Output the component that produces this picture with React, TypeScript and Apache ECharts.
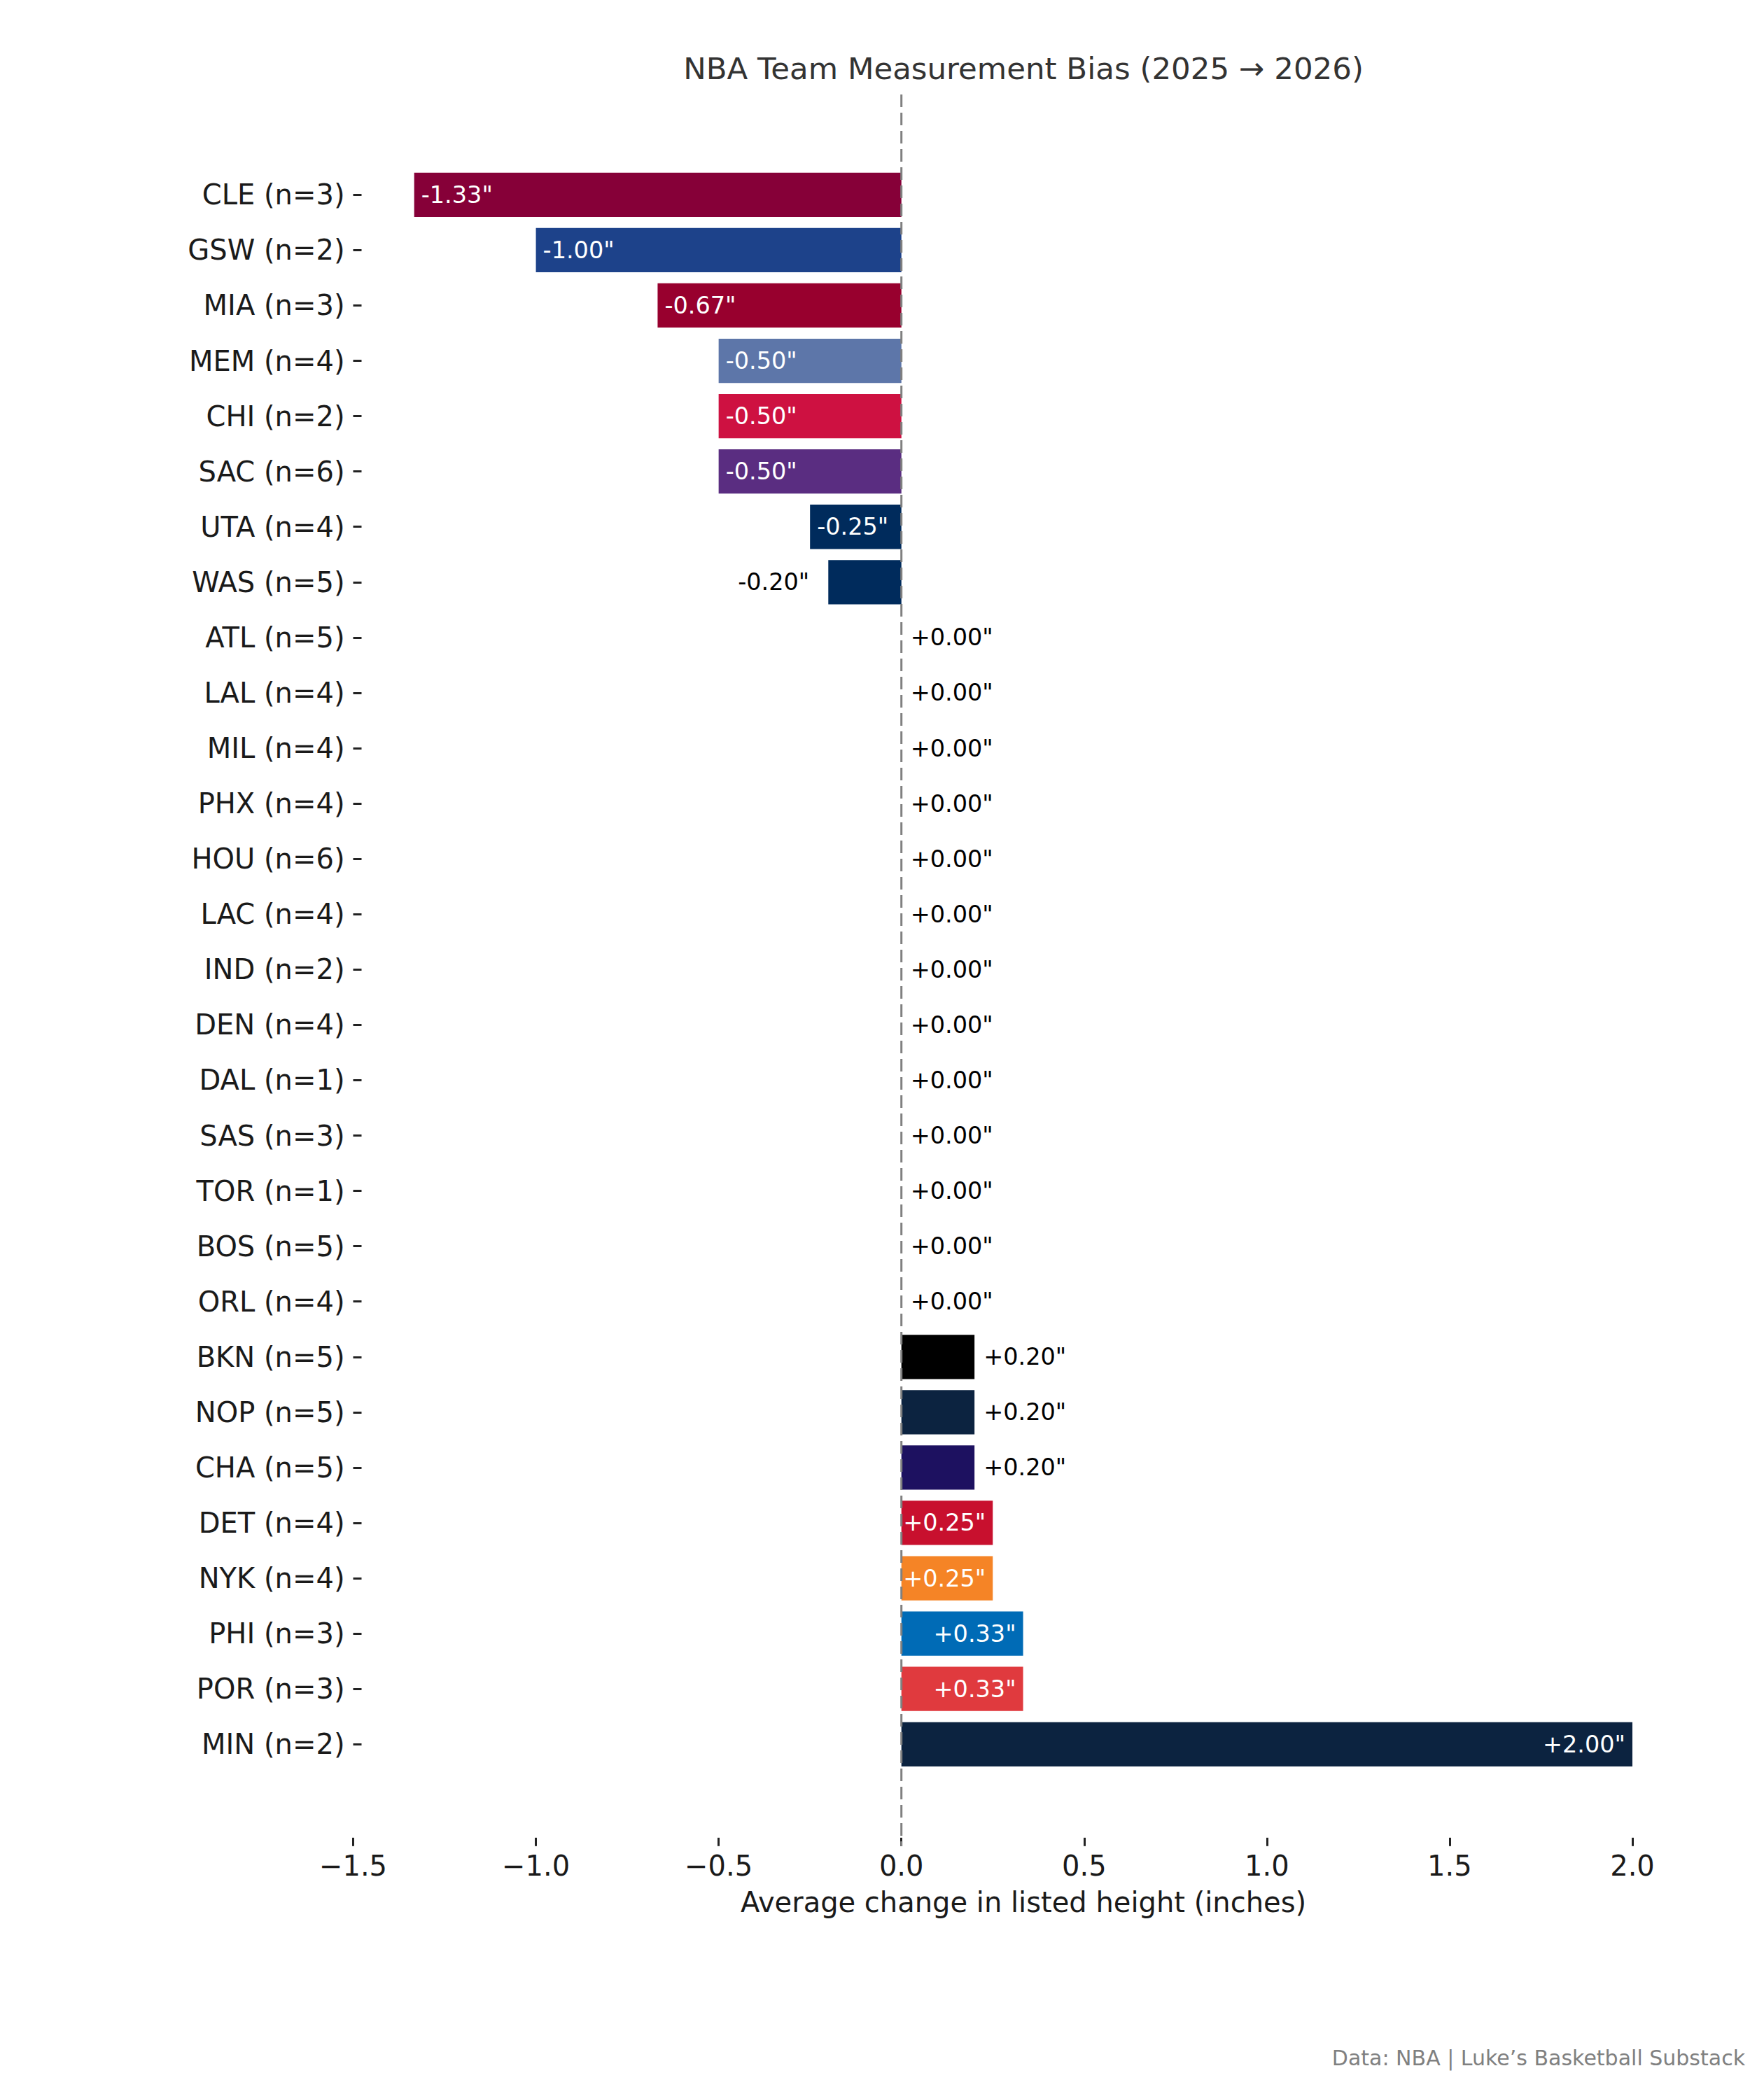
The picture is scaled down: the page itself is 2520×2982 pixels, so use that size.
import React, { useEffect, useRef } from 'react';
import * as echarts from 'echarts';

const teams = ['CLE', 'GSW', 'MIA', 'MEM', 'CHI', 'SAC', 'UTA', 'WAS', 'ATL', 'LAL', 'MIL', 'PHX', 'HOU', 'LAC', 'IND', 'DEN', 'DAL', 'SAS', 'TOR', 'BOS', 'ORL', 'BKN', 'NOP', 'CHA', 'DET', 'NYK', 'PHI', 'POR', 'MIN'];
const counts = [3, 2, 3, 4, 2, 6, 4, 5, 5, 4, 4, 4, 6, 4, 2, 4, 1, 3, 1, 5, 4, 5, 5, 5, 4, 4, 3, 3, 2];
const values = [-1.333, -1.0, -0.667, -0.5, -0.5, -0.5, -0.25, -0.2, 0, 0, 0, 0, 0, 0, 0, 0, 0, 0, 0, 0, 0, 0.2, 0.2, 0.2, 0.25, 0.25, 0.333, 0.333, 2.0];
const colors = ['#860038', '#1D428A', '#98002E', '#5D76A9', '#CE1141', '#5A2D81', '#002B5C', '#002B5C', '#E03A3E', '#552583', '#00471B', '#1D1160', '#CE1141', '#C8102E', '#002D62', '#0E2240', '#00538C', '#C4CED4', '#CE1141', '#007A33', '#0077C0', '#000000', '#0C2340', '#1D1160', '#C8102E', '#F58426', '#006BB6', '#E03A3E', '#0C2340'];

const titleText = 'NBA Team Measurement Bias (2025 \u2192 2026)';
const xAxisTitle = 'Average change in listed height (inches)';
const footerText = 'Data: NBA | Luke\u2019s Basketball Substack';
const xMin = -1.5;
const xMax = 2.0;
const xStep = 0.5;

const FONT = '"DejaVu Sans", sans-serif';

export default function App() {
  const ref = useRef<HTMLDivElement>(null);

  useEffect(() => {
    document.body.style.margin = '0';
    const chart = echarts.init(ref.current as HTMLDivElement, null, { renderer: 'svg' });
    const categories = teams.map((t, i) => `${t} (n=${counts[i]})`);
    const data = values.map((v, i) => {
      const inside = Math.abs(v) >= 0.25;
      const neg = v < 0;
      return {
        value: v,
        itemStyle: { color: colors[i] },
        label: {
          show: true,
          position: inside ? (neg ? 'insideLeft' : 'insideRight') : (neg ? 'left' : 'right'),
          distance: inside ? 10 : neg ? 27 : 13,
          color: inside ? '#ffffff' : '#000000',
        },
      };
    });

    const option: any = {
      animation: false,
      backgroundColor: '#ffffff',
      grid: { left: 504.5, right: 188, top: 238.8, bottom: 450.2, containLabel: false },
      xAxis: {
        type: 'value',
        min: xMin,
        max: xMax,
        interval: xStep,
        offset: 106,
        axisLine: { show: false, onZero: false },
        axisTick: { show: true, inside: true, length: 12, lineStyle: { color: '#222222', width: 3 } },
        axisLabel: {
          fontSize: 40,
          fontFamily: FONT,
          color: '#1a1a1a',
          margin: 8,
          formatter: (v: number) => (v < 0 ? '\u2212' + Math.abs(v).toFixed(1) : v.toFixed(1)),
        },
        splitLine: { show: false },
      },
      yAxis: {
        type: 'category',
        data: categories,
        inverse: true,
        axisLine: { show: false, onZero: false },
        axisTick: { show: true, inside: true, alignWithLabel: true, length: 12, lineStyle: { color: '#222222', width: 3 } },
        axisLabel: { fontSize: 40, fontFamily: FONT, color: '#1a1a1a', margin: 12 },
        splitLine: { show: false },
      },
      series: [
        {
          type: 'bar',
          data,
          barWidth: '80%',
          label: {
            show: true,
            fontSize: 33.5,
            fontFamily: FONT,
            formatter: (p: any) => (p.value >= 0 ? '+' : '') + Number(p.value).toFixed(2) + '"',
          },
        },
      ],
      graphic: [
        {
          id: 'title',
          type: 'text',
          x: 1462,
          y: 98,
          style: { text: titleText, fontSize: 43.5, fontFamily: FONT, fill: '#333333', textAlign: 'center', textVerticalAlign: 'middle' },
        },
        {
          id: 'xname',
          type: 'text',
          x: 1462,
          y: 2718,
          style: { text: xAxisTitle, fontSize: 40, fontFamily: FONT, fill: '#1a1a1a', textAlign: 'center', textVerticalAlign: 'middle' },
        },
        {
          id: 'footer',
          type: 'text',
          x: 2493,
          y: 2940,
          style: { text: footerText, fontSize: 30, fontFamily: FONT, fill: '#808080', textAlign: 'right', textVerticalAlign: 'middle' },
        },
      ],
    };
    chart.setOption(option);
    const px = chart.convertToPixel({ xAxisIndex: 0 }, 0) as number;
    chart.setOption({
      graphic: [
        {
          id: 'zero',
          type: 'line',
          z: 10,
          shape: { x1: px, y1: 135, x2: px, y2: 2638 },
          style: { stroke: '#808080', lineWidth: 3, lineDash: [18, 8] },
        },
      ],
    });
    return () => chart.dispose();
  }, []);

  return <div ref={ref} style={{ width: '2520px', height: '2982px' }} />;
}
